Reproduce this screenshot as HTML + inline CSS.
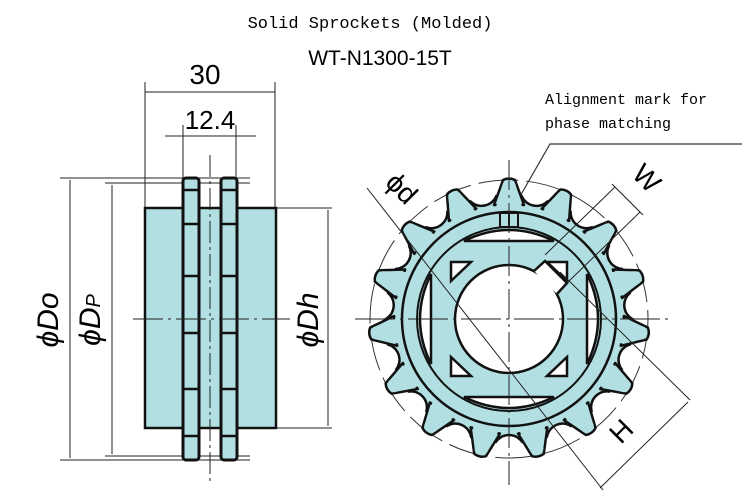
<!DOCTYPE html>
<html><head><meta charset="utf-8"><style>
html,body{margin:0;padding:0;background:#fff;}
svg{display:block;}
</style></head><body>
<svg width="750" height="494" viewBox="0 0 750 494" xmlns="http://www.w3.org/2000/svg">
<defs>
<clipPath id="cp"><circle cx="0" cy="0" r="125"/></clipPath>
</defs>
<text x="370" y="28" text-anchor="middle" font-family="Liberation Mono, monospace" font-size="17">Solid Sprockets (Molded)</text>
<text x="380" y="65" text-anchor="middle" font-family="Liberation Sans, sans-serif" font-size="21">WT-N1300-15T</text>
<text x="545" y="104" font-family="Liberation Mono, monospace" font-size="15">Alignment mark for</text>
<text x="545" y="128" font-family="Liberation Mono, monospace" font-size="15">phase matching</text>
<polyline points="742,144 550,144 515,205" fill="none" stroke="#333" stroke-width="1.2"/>

<!-- LEFT VIEW -->
<g stroke="#222" fill="none" stroke-width="1">
<line x1="145" y1="82" x2="145" y2="208"/><line x1="275" y1="82" x2="275" y2="208"/>
<line x1="145" y1="92" x2="275" y2="92"/>
<line x1="183" y1="125" x2="183" y2="178"/><line x1="236" y1="125" x2="236" y2="178"/>
<line x1="165" y1="136" x2="256" y2="136"/>
<line x1="60" y1="178" x2="250" y2="178"/><line x1="60" y1="460" x2="250" y2="460"/>
<line x1="105" y1="183" x2="250" y2="183"/><line x1="105" y1="456" x2="250" y2="456"/>
<line x1="70" y1="180" x2="70" y2="458"/><line x1="112" y1="185" x2="112" y2="454"/>
<line x1="275" y1="208" x2="332" y2="208"/><line x1="275" y1="428" x2="332" y2="428"/>
<line x1="328" y1="210" x2="328" y2="426"/>
</g>
<text x="205" y="84" text-anchor="middle" font-family="Liberation Sans, sans-serif" font-size="28">30</text>
<text x="210" y="129" text-anchor="middle" font-family="Liberation Sans, sans-serif" font-size="26">12.4</text>
<text transform="translate(58,320) rotate(-90)" text-anchor="middle" font-family="Liberation Sans, sans-serif" font-style="italic" font-size="30">ϕDo</text>
<text transform="translate(100,320) rotate(-90)" text-anchor="middle" font-family="Liberation Sans, sans-serif" font-style="italic" font-size="30">ϕD<tspan font-size="20">P</tspan></text>
<text transform="translate(318,320) rotate(-90)" text-anchor="middle" font-family="Liberation Sans, sans-serif" font-style="italic" font-size="30">ϕDh</text>

<rect x="145" y="208" width="131" height="220" fill="#b2e0e2" stroke="#111" stroke-width="2.5"/>
<rect x="183" y="178" width="16" height="282" rx="3" fill="#b2e0e2" stroke="#111" stroke-width="3"/>
<rect x="221" y="178" width="16" height="282" rx="3" fill="#b2e0e2" stroke="#111" stroke-width="3"/>
<g stroke="#111" stroke-width="2.5">
<line x1="183" y1="190" x2="199" y2="190"/><line x1="221" y1="190" x2="237" y2="190"/>
<line x1="183" y1="224" x2="199" y2="224"/><line x1="221" y1="224" x2="237" y2="224"/>
<line x1="183" y1="276" x2="199" y2="276"/><line x1="221" y1="276" x2="237" y2="276"/>
<line x1="183" y1="333" x2="199" y2="333"/><line x1="221" y1="333" x2="237" y2="333"/>
<line x1="183" y1="389" x2="199" y2="389"/><line x1="221" y1="389" x2="237" y2="389"/>
<line x1="183" y1="436" x2="199" y2="436"/><line x1="221" y1="436" x2="237" y2="436"/>
</g>
<line x1="210" y1="155" x2="210" y2="482" stroke="#222" stroke-width="1" stroke-dasharray="22,4,3,4"/>
<line x1="133" y1="319" x2="290" y2="319" stroke="#222" stroke-width="1" stroke-dasharray="30,5,3,5"/>

<!-- RIGHT VIEW -->
<g transform="translate(509,319)">
<circle r="139" fill="none" stroke="#333" stroke-width="1" stroke-dasharray="40,8"/>
<circle r="122" fill="#b2e0e2"/>
<g fill="#b2e0e2" stroke="#111" stroke-width="2.5" stroke-linejoin="round">
<g id="t"><path d="M-15,-114 L-6,-139 Q0,-142 6,-139 L15,-114 Z"/></g>
<use href="#t" transform="rotate(24)"/><use href="#t" transform="rotate(48)"/><use href="#t" transform="rotate(72)"/>
<use href="#t" transform="rotate(96)"/><use href="#t" transform="rotate(120)"/><use href="#t" transform="rotate(144)"/>
<use href="#t" transform="rotate(168)"/><use href="#t" transform="rotate(192)"/><use href="#t" transform="rotate(216)"/>
<use href="#t" transform="rotate(240)"/><use href="#t" transform="rotate(264)"/><use href="#t" transform="rotate(288)"/>
<use href="#t" transform="rotate(312)"/><use href="#t" transform="rotate(336)"/>
</g>
<g fill="#b2e0e2" stroke="none">
<g id="tb"><path d="M-13,-112 L-6,-136 L6,-136 L13,-112 Z"/></g>
<use href="#tb" transform="rotate(24)"/><use href="#tb" transform="rotate(48)"/><use href="#tb" transform="rotate(72)"/>
<use href="#tb" transform="rotate(96)"/><use href="#tb" transform="rotate(120)"/><use href="#tb" transform="rotate(144)"/>
<use href="#tb" transform="rotate(168)"/><use href="#tb" transform="rotate(192)"/><use href="#tb" transform="rotate(216)"/>
<use href="#tb" transform="rotate(240)"/><use href="#tb" transform="rotate(264)"/><use href="#tb" transform="rotate(288)"/>
<use href="#tb" transform="rotate(312)"/><use href="#tb" transform="rotate(336)"/>
</g>
<g clip-path="url(#cp)" fill="#fff" stroke="#111" stroke-width="2.5">
<g id="s"><circle cx="0" cy="-132" r="16" transform="rotate(12)"/></g>
<use href="#s" transform="rotate(24)"/><use href="#s" transform="rotate(48)"/><use href="#s" transform="rotate(72)"/>
<use href="#s" transform="rotate(96)"/><use href="#s" transform="rotate(120)"/><use href="#s" transform="rotate(144)"/>
<use href="#s" transform="rotate(168)"/><use href="#s" transform="rotate(192)"/><use href="#s" transform="rotate(216)"/>
<use href="#s" transform="rotate(240)"/><use href="#s" transform="rotate(264)"/><use href="#s" transform="rotate(288)"/>
<use href="#s" transform="rotate(312)"/><use href="#s" transform="rotate(336)"/>
</g>
<circle r="107" fill="none" stroke="#111" stroke-width="2.5"/>
<circle r="92" fill="none" stroke="#111" stroke-width="2"/>
<rect x="-9" y="-106" width="18" height="14" fill="none" stroke="#111" stroke-width="2"/>
<line x1="0" y1="-106" x2="0" y2="-92" stroke="#111" stroke-width="2"/>
<g fill="#fff" stroke="#111" stroke-width="2.5">
<path d="M-45,-78 Q0,-100 45,-78 Z"/>
<path d="M-45,78 Q0,100 45,78 Z"/>
<path d="M-78,-45 Q-100,0 -78,45 Z"/>
<path d="M78,-45 Q100,0 78,45 Z"/>
<path d="M-58,-57 L-38,-57 L-58,-38 Z"/>
<path d="M58,57 L38,57 L58,38 Z"/>
<path d="M-58,57 L-38,57 L-58,38 Z"/>
<path d="M58,-57 L38,-57 L58,-38 Z"/>
</g>
<circle r="54" fill="#fff" stroke="#111" stroke-width="2.5"/>
<path d="M25,-48 L36,-58 L58,-36 L48,-25" fill="#fff" stroke="#111" stroke-width="2.5"/>
</g>
<g stroke="#222" stroke-width="1" fill="none">
<line x1="509" y1="160" x2="509" y2="485" stroke-dasharray="30,5,3,5"/>
<line x1="355" y1="319" x2="668" y2="319" stroke-dasharray="40,5,3,5"/>
<line x1="367" y1="188" x2="603" y2="490"/>
<line x1="545" y1="255" x2="615" y2="187"/>
<line x1="567" y1="283" x2="640" y2="212"/>
<line x1="612" y1="184" x2="643" y2="215"/>
<line x1="560" y1="272" x2="690" y2="400"/>
<line x1="688" y1="402" x2="600" y2="488"/>
</g>
<text transform="translate(395,195) rotate(45)" text-anchor="middle" font-family="Liberation Sans, sans-serif" font-size="28">ϕd</text>
<text transform="translate(640,185) rotate(45)" text-anchor="middle" font-family="Liberation Sans, sans-serif" font-size="28">W</text>
<text transform="translate(628,438) rotate(-45)" text-anchor="middle" font-family="Liberation Sans, sans-serif" font-size="28">H</text>
</svg>
</body></html>
